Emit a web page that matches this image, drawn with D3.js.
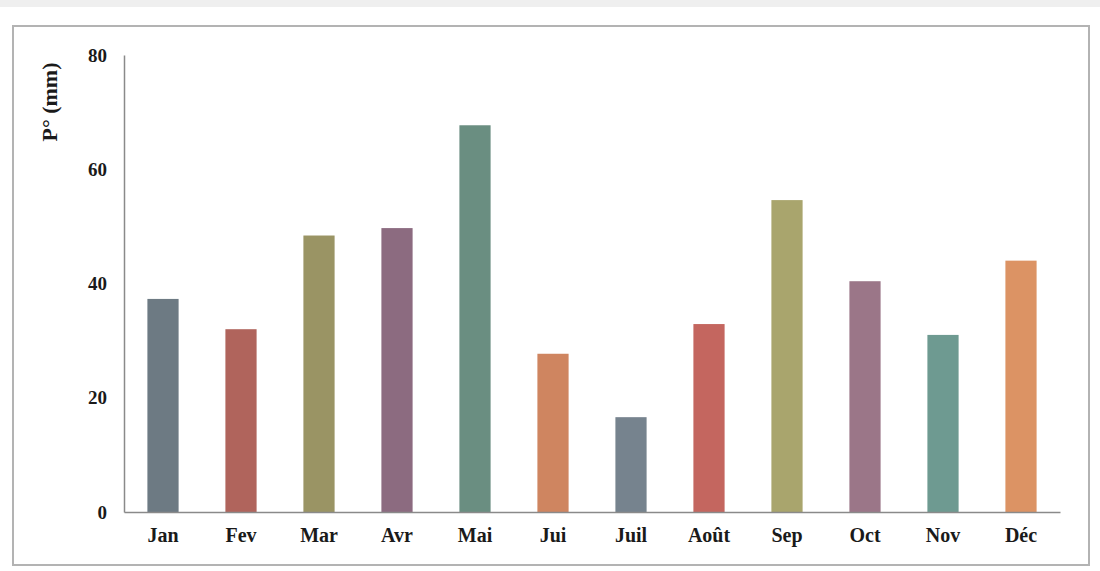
<!DOCTYPE html>
<html>
<head>
<meta charset="utf-8">
<script src="https://cdn.jsdelivr.net/npm/d3@7"></script>
<style>
  body { margin: 0; background: #fff; }
  svg text { font-family: "Liberation Serif", "Times New Roman", serif; font-weight: bold; fill: #1a1a1a; }
</style>
</head>
<body>
<script>
// chart data
var months = ["Jan", "Fev", "Mar", "Avr", "Mai", "Jui", "Juil", "Août", "Sep", "Oct", "Nov", "Déc"];
var precip = [37.3, 32.0, 48.4, 49.7, 67.7, 27.7, 16.6, 32.9, 54.6, 40.4, 31.0, 44.0];
var barColors = ["#6d7a83", "#b0645c", "#9a9464", "#8c6b80", "#6a8e81", "#cf8560",
                 "#76838e", "#c4665f", "#a9a56d", "#9b7688", "#6e9a91", "#dc9364"];
var yTicks = [0, 20, 40, 60, 80];

var w = 1100, h = 571;

var svg = d3.select("body")
    .append("svg")
    .attr("width", w)
    .attr("height", h);

// grey strip along the top
svg.append("rect")
    .attr("width", w)
    .attr("height", 7)
    .attr("fill", "#efefef");

// frame
svg.append("rect")
    .attr("x", 13)
    .attr("y", 26)
    .attr("width", 1076)
    .attr("height", 539)
    .attr("fill", "none")
    .attr("stroke", "#b3b3b3")
    .attr("stroke-width", 2);

var x = d3.scaleBand()
    .domain(months)
    .range([124, 1060])
    .paddingInner(0.6)
    .paddingOuter(0.3);

var y = d3.scaleLinear()
    .domain([0, 80])
    .range([512, 55]);

// bars
svg.selectAll(".bar")
    .data(precip)
    .enter()
    .append("rect")
    .attr("class", "bar")
    .attr("x", function(d, i){ return x(months[i]); })
    .attr("y", function(d){ return y(d); })
    .attr("width", x.bandwidth())
    .attr("height", function(d){ return y(0) - y(d); })
    .attr("fill", function(d, i){ return barColors[i]; });

// y axis
var yAxis = svg.append("g")
    .attr("transform", "translate(124,0)")
    .call(d3.axisLeft(y).tickValues(yTicks).tickSize(0).tickPadding(17));
yAxis.select(".domain").attr("stroke", "#8a8a8a").attr("stroke-width", 1.5);
yAxis.selectAll("text").style("font-size", "19px");

// x axis
var xAxis = svg.append("g")
    .attr("transform", "translate(0,512)")
    .call(d3.axisBottom(x).tickSize(0).tickPadding(16));
xAxis.select(".domain").attr("stroke", "#8a8a8a").attr("stroke-width", 1.5);
xAxis.selectAll("text").style("font-size", "20px");

// y title
svg.append("text")
    .attr("transform", "translate(57,102) rotate(-90)")
    .attr("text-anchor", "middle")
    .style("font-size", "22px")
    .text("P° (mm)");
</script>
</body>
</html>
